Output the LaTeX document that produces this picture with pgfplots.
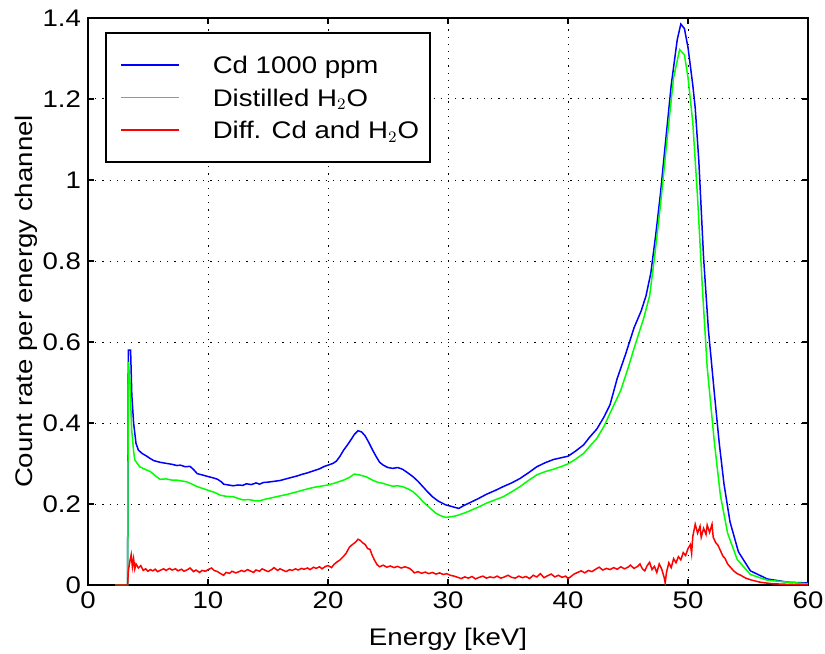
\documentclass[border=0pt]{standalone}
\usepackage{pgfplots}
\pgfplotsset{compat=1.18}
\usepackage{fontspec}
\setmainfont{Liberation Sans}[FakeStretch=1.15]
\definecolor{cdblue}{RGB}{0,0,255}
\definecolor{h2ogreen}{RGB}{0,255,0}
\definecolor{diffred}{RGB}{255,0,0}

\begin{document}
\begin{tikzpicture}
\begin{axis}[
    scale only axis,
    width=360pt, height=283.5pt,
    xmin=0, xmax=60, ymin=0, ymax=1.4,
    xtick={0,10,...,60},
    ytick={0,0.2,...,1.4},
    tick align=inside,
    major tick length=3pt,
    axis line style={line width=0.8pt},
    every tick/.style={black, line width=0.6pt},
    grid=major,
    major grid style={black, line width=0.5pt, dash pattern=on 0.6pt off 3pt},
    font=\fontsize{12}{14}\selectfont,
    ticklabel style={font=\fontsize{12}{14}\selectfont},
    /pgf/number format/assume math mode=true,
    xlabel={Energy [keV]},
    ylabel={Count rate per energy channel},
    xlabel style={at={([yshift=-30pt]axis description cs:0.5,0)}, anchor=base},
    ylabel style={at={([xshift=-27.5pt]axis description cs:0,0.5)}, anchor=base},
    legend style={at={(0.0236,0.9753)}, anchor=north west, draw=black,
        line width=0.8pt, inner xsep=7.5pt, inner ysep=8pt, column sep=0pt,
        font=\fontsize{12}{14}\selectfont,
        nodes={inner ysep=0pt, text height=12.4pt, text depth=3.8pt}},
    legend cell align=left,
    legend image code/.code={\fill[#1, draw=none] (0pt,-0.45pt) rectangle (29pt,0.45pt);},
]
\addplot[color=cdblue, line width=0.75pt] coordinates {
(2.25,0) (3.30,0) (3.36,0.58) (3.55,0.58) (3.65,0.47) (3.8,0.40) (4.0,0.35) (4.2,0.333)
(4.5,0.325) (4.9,0.318) (5.2,0.312) (5.5,0.307) (6.0,0.303) (6.6,0.300) (7.0,0.298)
(7.4,0.295) (7.7,0.296) (8.1,0.292) (8.5,0.293) (8.8,0.285) (9.1,0.275) (9.5,0.272)
(10.1,0.267) (10.5,0.264) (10.8,0.261) (11.1,0.255) (11.3,0.249) (11.7,0.247) (12.1,0.245)
(12.5,0.247) (12.9,0.246) (13.2,0.250) (13.6,0.248) (14.0,0.252) (14.3,0.249) (14.6,0.253)
(15.0,0.254) (15.5,0.256) (16.0,0.258) (16.5,0.262) (17.0,0.266) (17.4,0.269) (17.8,0.273)
(18.3,0.277) (18.8,0.282) (19.3,0.287) (19.7,0.293) (20.0,0.296) (20.4,0.300) (20.7,0.306)
(21.0,0.318) (21.3,0.333) (21.6,0.345) (21.9,0.358) (22.2,0.372) (22.5,0.381) (22.8,0.378)
(23.1,0.368) (23.4,0.352) (23.7,0.334) (24.0,0.318) (24.3,0.303) (24.6,0.296) (25.0,0.290)
(25.4,0.288) (25.8,0.290) (26.2,0.286) (26.6,0.278) (27.1,0.267) (27.5,0.256) (27.9,0.243)
(28.3,0.230) (28.7,0.218) (29.2,0.207) (29.8,0.198) (30.3,0.194) (30.9,0.189) (31.3,0.196)
(31.8,0.203) (32.5,0.213) (33.2,0.224) (33.9,0.233) (34.6,0.243) (35.3,0.252) (36.0,0.263)
(36.7,0.277) (37.4,0.292) (38.1,0.302) (38.8,0.310) (39.4,0.314) (40.0,0.318) (40.6,0.330)
(41.3,0.346) (41.8,0.365) (42.4,0.385) (43.0,0.415) (43.5,0.445) (44.1,0.510) (44.8,0.570)
(45.5,0.635) (46.1,0.677) (46.5,0.714) (46.9,0.770) (47.3,0.862) (47.7,0.965) (48.1,1.086)
(48.6,1.234) (49.1,1.346) (49.4,1.385) (49.7,1.374) (50.0,1.327) (50.4,1.234) (50.6,1.178)
(50.9,1.048) (51.3,0.807) (51.7,0.630) (52.2,0.472) (52.6,0.351) (53.0,0.249) (53.5,0.156)
(54.2,0.082) (55.2,0.035) (56.6,0.015) (58.3,0.007) (60,0.005)
};
\addlegendentry{\hspace*{15pt}\makebox[99pt][l]{Cd 1000 ppm}}
\addplot[color=h2ogreen, line width=0.75pt] coordinates {
(2.25,0) (3.30,0) (3.36,0.551) (3.5,0.50) (3.64,0.383) (3.8,0.33) (3.9,0.309) (4.3,0.292)
(4.8,0.285) (5.2,0.280) (5.6,0.270) (6.0,0.261) (6.5,0.262) (7.0,0.259) (7.4,0.259)
(7.8,0.257) (8.2,0.255) (8.6,0.250) (9.1,0.243) (9.6,0.238) (10.1,0.233) (10.6,0.228)
(11.0,0.222) (11.5,0.219) (12.1,0.218) (12.5,0.214) (12.9,0.210) (13.4,0.211) (13.9,0.208)
(14.3,0.208) (14.8,0.212) (15.4,0.216) (16.0,0.220) (16.5,0.223) (17.0,0.227) (17.4,0.230)
(18.0,0.235) (18.8,0.241) (19.4,0.244) (20.0,0.247) (20.6,0.252) (21.3,0.259) (21.8,0.266)
(22.2,0.274) (22.6,0.272) (23.2,0.267) (23.7,0.259) (24.2,0.253) (24.6,0.251) (25.0,0.247)
(25.4,0.244) (25.8,0.245) (26.2,0.243) (26.7,0.237) (27.1,0.230) (27.5,0.219) (27.9,0.206)
(28.5,0.190) (29.0,0.177) (29.4,0.171) (29.8,0.167) (30.4,0.169) (30.9,0.173) (31.3,0.177)
(31.8,0.183) (32.5,0.192) (33.2,0.202) (33.9,0.210) (34.6,0.218) (35.3,0.230) (36.0,0.243)
(36.7,0.258) (37.4,0.272) (38.1,0.280) (38.8,0.286) (39.4,0.292) (40.0,0.299) (40.6,0.310)
(41.3,0.325) (41.8,0.342) (42.4,0.362) (43.0,0.392) (43.5,0.424) (44.4,0.481) (45.0,0.535)
(45.5,0.584) (46.3,0.658) (46.8,0.714) (47.2,0.807) (47.7,0.937) (48.3,1.113) (48.8,1.253)
(49.3,1.322) (49.7,1.309) (50.0,1.253) (50.4,1.141) (50.8,0.955) (51.2,0.732) (51.6,0.537)
(52.2,0.351) (52.7,0.221) (53.3,0.128) (54.1,0.063) (55.2,0.026) (56.6,0.012) (58.3,0.007)
(60,0.003)
};
\addlegendentry{\hspace*{15pt}\makebox[99pt][l]{Distilled H$_2$O}}
\addplot[color=diffred, line width=0.75pt] coordinates {
(2.25,0) (3.30,0) (3.36,0.035) (3.5,0.06) (3.6,0.075) (3.7,0.045) (3.8,0.065) (3.9,0.04)
(4.0,0.052) (4.2,0.042) (4.4,0.048) (4.6,0.036) (4.8,0.040) (5.0,0.034) (5.2,0.038)
(5.4,0.035) (5.6,0.039) (5.8,0.033) (6.0,0.036) (6.3,0.040) (6.5,0.036) (6.8,0.041)
(7.0,0.037) (7.3,0.040) (7.5,0.035) (7.8,0.039) (8.0,0.034) (8.3,0.038) (8.5,0.042)
(8.8,0.033) (9.0,0.037) (9.3,0.031) (9.5,0.036) (9.8,0.034) (10.0,0.038) (10.3,0.042)
(10.5,0.036) (10.8,0.033) (11.0,0.029) (11.3,0.024) (11.5,0.031) (11.8,0.029) (12.0,0.034)
(12.3,0.030) (12.5,0.032) (12.8,0.036) (13.0,0.033) (13.3,0.038) (13.5,0.035) (13.8,0.031)
(14.0,0.037) (14.3,0.034) (14.5,0.040) (14.8,0.036) (15.0,0.033) (15.3,0.038) (15.5,0.043)
(15.8,0.036) (16.0,0.040) (16.3,0.036) (16.5,0.033) (16.8,0.038) (17.0,0.036) (17.3,0.040)
(17.5,0.037) (17.8,0.041) (18.0,0.039) (18.3,0.042) (18.5,0.038) (18.8,0.044) (19.0,0.041)
(19.3,0.045) (19.5,0.040) (19.8,0.046) (20.0,0.048) (20.3,0.043) (20.5,0.051) (20.8,0.058)
(21.0,0.062) (21.3,0.071) (21.5,0.078) (21.8,0.094) (22.0,0.099) (22.3,0.106) (22.5,0.113)
(22.7,0.110) (22.9,0.104) (23.1,0.100) (23.3,0.090) (23.5,0.088) (23.7,0.072) (23.9,0.060)
(24.1,0.050) (24.3,0.045) (24.6,0.049) (24.9,0.044) (25.2,0.047) (25.5,0.043) (25.8,0.046)
(26.1,0.042) (26.4,0.045) (26.8,0.041) (27.0,0.036) (27.2,0.030) (27.5,0.033) (27.8,0.029)
(28.1,0.032) (28.4,0.028) (28.7,0.031) (29.0,0.027) (29.3,0.030) (29.6,0.026) (29.9,0.028)
(30.2,0.024) (30.5,0.022) (30.8,0.019) (31.1,0.016) (31.4,0.020) (31.7,0.017) (32.0,0.021)
(32.3,0.015) (32.6,0.019) (32.9,0.022) (33.2,0.017) (33.5,0.020) (33.8,0.018) (34.1,0.022)
(34.4,0.017) (34.7,0.020) (35.0,0.024) (35.3,0.019) (35.6,0.017) (35.9,0.022) (36.2,0.018)
(36.5,0.021) (36.8,0.016) (37.1,0.024) (37.4,0.020) (37.7,0.028) (38.0,0.018) (38.3,0.023)
(38.6,0.027) (38.9,0.020) (39.2,0.024) (39.5,0.019) (39.8,0.022) (40.0,0.016) (40.2,0.020)
(40.5,0.027) (40.8,0.031) (41.1,0.035) (41.4,0.030) (41.7,0.036) (42.0,0.033) (42.3,0.039)
(42.6,0.044) (42.9,0.037) (43.2,0.041) (43.5,0.038) (43.8,0.043) (44.1,0.039) (44.4,0.045)
(44.7,0.040) (45.0,0.044) (45.2,0.049) (45.5,0.041) (45.8,0.046) (46.0,0.052) (46.2,0.040)
(46.4,0.035) (46.6,0.048) (46.8,0.056) (47.0,0.038) (47.2,0.046) (47.4,0.031) (47.6,0.052)
(47.8,0.040) (48.0,0.020) (48.1,0.005) (48.2,0.030) (48.4,0.055) (48.6,0.043) (48.8,0.065)
(49.0,0.055) (49.2,0.070) (49.4,0.062) (49.6,0.080) (49.8,0.073) (50.0,0.090) (50.2,0.100)
(50.3,0.078) (50.4,0.120) (50.6,0.150) (50.8,0.128) (51.0,0.145) (51.1,0.118) (51.3,0.140)
(51.5,0.125) (51.6,0.148) (51.8,0.130) (52.0,0.150) (52.1,0.118) (52.3,0.105) (52.5,0.098)
(52.7,0.085) (52.9,0.072) (53.1,0.065) (53.3,0.052) (53.5,0.045) (53.8,0.035) (54.1,0.028)
(54.4,0.024) (54.8,0.017) (55.2,0.013) (55.6,0.010) (56.0,0.007) (56.5,0.005) (57.1,0.003)
(58,0.002) (59,0.001) (60,0)
};
\addlegendentry{\hspace*{15pt}\makebox[99pt][l]{Diff. Cd and H$_2$O}}
\coordinate (bl) at (rel axis cs:0,0);
\coordinate (tr) at (rel axis cs:1,1);
\end{axis}
\pgfresetboundingbox
\path ([shift={(-44pt,-34pt)}]bl) rectangle ([shift={(8.5pt,9pt)}]tr);
\end{tikzpicture}
\end{document}
